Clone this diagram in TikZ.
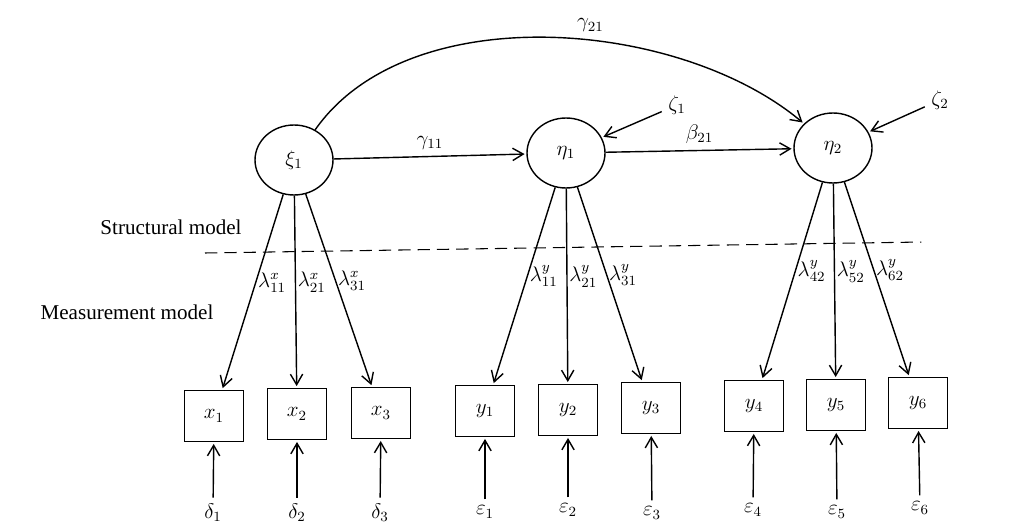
\documentclass[tikz,border=0pt]{standalone}
\usepackage{amsmath}
\usepackage{fontspec}
\setmainfont{Liberation Serif}
\usepackage{tikz}
\usetikzlibrary{arrows.meta,positioning,shapes.geometric}

\begin{document}
\begin{tikzpicture}[->,>={Straight Barb[length=6pt,width=7pt]},shorten >=1pt,auto,
           thick, x=0.02cm, y=0.02cm, font=\large,
           latent/.style={draw,ellipse,minimum width=1.56cm,minimum height=1.4cm,inner sep=0pt},
           observed/.style={draw,rectangle,minimum width=1.18cm,minimum height=1.02cm},
           loading/.style={pos=0.45,right,inner sep=1pt}]
  \useasboundingbox (0,0) rectangle (1011,531);
  % latent variables
  \node[latent] (xi1) at (294,371) {$\xi_1$};
  \node[latent] (eta1) at (566,378) {$\eta_1$};
  \node[latent] (eta2) at (833,383) {$\eta_2$};
  \node (zeta1) at (677,426) {$\zeta_1$};
  \node (zeta2) at (940,431) {$\zeta_2$};
  % structural part
  \path (xi1) edge node {$\gamma_{11}$} (eta1);
  \path (eta1) edge node {$\beta_{21}$} (eta2);
  \path (xi1) edge[out=55,in=140,looseness=0.85] node[pos=0.54] {$\gamma_{21}$} (eta2);
  \path (zeta1) edge (eta1);
  \path (zeta2) edge (eta2);
  % divider
  \node (smodel) at (171,304) {Structural model};
  \node (mmodel) at (127,219) {Measurement model};
  \coordinate (dl) at (205,278);
  \coordinate (dr) at (923,289);
  \draw[-,dashed,dash pattern=on 7pt off 4pt,semithick] (dl) -- (dr);
  % observed variables
  \node[observed] (x1) at (214,115) {$x_1$};
  \node[observed] (x2) at (297,117) {$x_2$};
  \node[observed] (x3) at (381,118) {$x_3$};
  \node[observed] (y1) at (485,120) {$y_1$};
  \node[observed] (y2) at (568,121) {$y_2$};
  \node[observed] (y3) at (651,123) {$y_3$};
  \node[observed] (y4) at (754,125) {$y_4$};
  \node[observed] (y5) at (836,126) {$y_5$};
  \node[observed] (y6) at (918,128) {$y_6$};
  % loadings
  \path (xi1) edge node[loading] {$\lambda^x_{11}$} (x1)
              edge node[loading] {$\lambda^x_{21}$} (x2)
              edge node[loading] {$\lambda^x_{31}$} (x3);
  \path (eta1) edge node[loading] {$\lambda^y_{11}$} (y1)
               edge node[loading] {$\lambda^y_{21}$} (y2)
               edge node[loading] {$\lambda^y_{31}$} (y3);
  \path (eta2) edge node[loading] {$\lambda^y_{42}$} (y4)
               edge node[loading] {$\lambda^y_{52}$} (y5)
               edge node[loading] {$\lambda^y_{62}$} (y6);
  % measurement errors
  \node (d1) at (213,18) {$\delta_1$};
  \node (d2) at (297,18) {$\delta_2$};
  \node (d3) at (380,18) {$\delta_3$};
  \node (e1) at (485,19) {$\varepsilon_1$};
  \node (e2) at (568,21) {$\varepsilon_2$};
  \node (e3) at (652,18) {$\varepsilon_3$};
  \node (e4) at (753,21) {$\varepsilon_4$};
  \node (e5) at (837,19) {$\varepsilon_5$};
  \node (e6) at (920,23) {$\varepsilon_6$};
  \path (d1) edge (x1);
  \path (d2) edge (x2);
  \path (d3) edge (x3);
  \path (e1) edge (y1);
  \path (e2) edge (y2);
  \path (e3) edge (y3);
  \path (e4) edge (y4);
  \path (e5) edge (y5);
  \path (e6) edge (y6);
\end{tikzpicture}
\end{document}
